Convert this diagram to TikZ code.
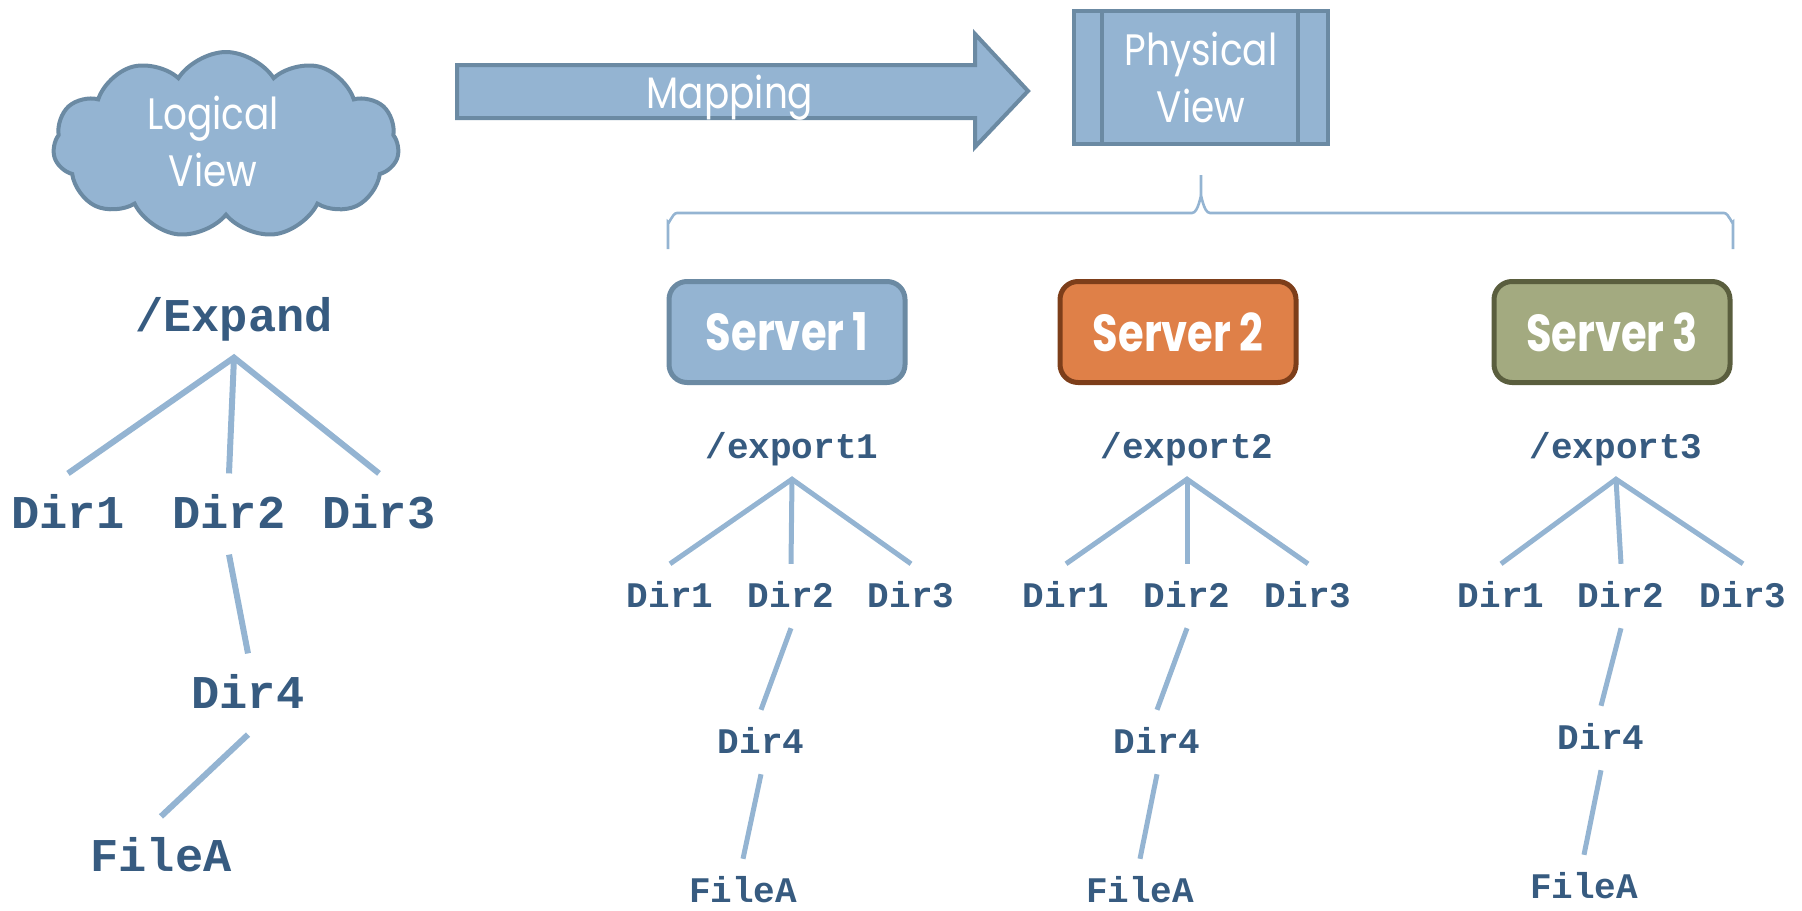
\documentclass[tikz,border=0pt]{standalone}
\usepackage{fontspec}
\usepackage{graphicx}
\usetikzlibrary{shapes.symbols}
\newfontfamily\geo{Poppins}
\newfontfamily\mono{Liberation Mono}
\definecolor{lb}{HTML}{94B4D2}
\definecolor{lbd}{HTML}{6B8AA3}
\definecolor{tx}{HTML}{375B80}
\definecolor{orf}{HTML}{DF8048}
\definecolor{ord}{HTML}{7D3E1A}
\definecolor{olf}{HTML}{A3AA80}
\definecolor{old}{HTML}{5A5E3E}
\tikzset{
  bigt/.style={font=\mono\bfseries\fontsize{23.5}{28}\selectfont, text=tx, inner sep=0pt, outer sep=13pt, text height=14.6pt, text depth=0pt},
  smt/.style={font=\mono\bfseries\fontsize{18}{22}\selectfont, text=tx, inner sep=0pt, outer sep=10.5pt, text height=11.2pt, text depth=0pt},
  bigl/.style={draw=lb, line width=3pt},
  sml/.style={draw=lb, line width=2.5pt},
  srv/.style={rounded corners=9pt, line width=2.5pt, minimum width=118pt, minimum height=50.5pt, text=white, font=\geo\bfseries\fontsize{26}{30}\selectfont},
  lighttext/.style={text=white, font=\geo\fontsize{22}{28.5}\selectfont, align=center},
  bluefill/.style={fill=lb, draw=lbd, line width=2pt}
}
\begin{document}
\begin{tikzpicture}[x=0.5pt,y=-0.5pt]
\useasboundingbox (0,0) rectangle (1802,910);

% cloud
\node[cloud, cloud puffs=11, cloud puff arc=115, aspect=1.9, bluefill, minimum width=173pt, minimum height=93pt, inner sep=0pt] (cl) at (226,145) {};
\node[lighttext] (clt) at (213,141) {\scalebox{0.85}[1]{Logical}\\\scalebox{0.85}[1]{View}};

% mapping arrow
\draw[bluefill] (457,65) -- (975,65) -- (975,34) -- (1028,91) -- (975,147) -- (975,118) -- (457,118) -- cycle;
\node[lighttext] (map) at (730,98) {\scalebox{0.85}[1]{Mapping}};

% physical view
\node[bluefill, minimum width=127pt, minimum height=66.5pt, lighttext] (pv) at (1201,77.5) {\scalebox{0.85}[1]{Physical}\\\scalebox{0.85}[1]{View}};
\draw[draw=lbd, line width=2pt] ([xshift=15pt]pv.north west) -- ([xshift=15pt]pv.south west);
\draw[draw=lbd, line width=2pt] ([xshift=-16pt]pv.north east) -- ([xshift=-16pt]pv.south east);

% brace
\draw[draw=lb, line width=1.3pt] (668,249) -- (668,222) to[out=-90,in=180] (677,213) -- (1192,213) to[out=0,in=90] (1201,198) -- (1201,175);
\draw[draw=lb, line width=1.3pt] (1201,198) to[out=90,in=180] (1210,213) -- (1724,213) to[out=0,in=-90] (1733,222) -- (1733,249);

% servers
\node[srv, fill=lb, draw=lbd] (s1) at (787,332) {\scalebox{0.8}[1]{Server\hspace{5pt}1}};
\node[srv, fill=orf, draw=ord] (s2) at (1178,332) {\scalebox{0.8}[1]{Server\hspace{5pt}2}};
\node[srv, fill=olf, draw=old] (s3) at (1612,332) {\scalebox{0.8}[1]{Server\hspace{5pt}3}};

% left tree
\node[bigt] (ex) at (234,317) {/Expand};
\node[bigt] (l1) at (68,514) {Dir1};
\node[bigt] (l2) at (229,514) {Dir2};
\node[bigt] (l3) at (379,514) {Dir3};
\node[bigt] (l4) at (248,694) {Dir4};
\node[bigt] (lf) at (161,857) {FileA};
\draw[bigl] (l1.north) -- (ex.south) -- (l3.north);
\draw[bigl] (ex.south) -- (l2.north);
\draw[bigl] (l2.south) -- (l4.north);
\draw[bigl] (l4.south) -- (lf.north);

% tree 1
\node[smt] (e1) at (792,447) {/export1};
\node[smt] (a1) at (670,596) {Dir1};
\node[smt] (a2) at (791,596) {Dir2};
\node[smt] (a3) at (911,596) {Dir3};
\node[smt] (a4) at (761,742) {Dir4};
\node[smt] (af) at (743,891) {FileA};
\draw[sml] (a1.north) -- (e1.south) -- (a3.north);
\draw[sml] (e1.south) -- (a2.north);
\draw[sml] (a2.south) -- (a4.north);
\draw[sml] (a4.south) -- (af.north);

% tree 2
\node[smt] (e2) at (1187,447) {/export2};
\node[smt] (b1) at (1066,596) {Dir1};
\node[smt] (b2) at (1187,596) {Dir2};
\node[smt] (b3) at (1308,596) {Dir3};
\node[smt] (b4) at (1157,742) {Dir4};
\node[smt] (bf) at (1140,891) {FileA};
\draw[sml] (b1.north) -- (e2.south) -- (b3.north);
\draw[sml] (e2.south) -- (b2.north);
\draw[sml] (b2.south) -- (b4.north);
\draw[sml] (b4.south) -- (bf.north);

% tree 3
\node[smt] (e3) at (1616,447) {/export3};
\node[smt] (c1) at (1501,596) {Dir1};
\node[smt] (c2) at (1621,596) {Dir2};
\node[smt] (c3) at (1743,596) {Dir3};
\node[smt] (c4) at (1601,738) {Dir4};
\node[smt] (cf) at (1584,887) {FileA};
\draw[sml] (c1.north) -- (e3.south) -- (c3.north);
\draw[sml] (e3.south) -- (c2.north);
\draw[sml] (c2.south) -- (c4.north);
\draw[sml] (c4.south) -- (cf.north);
\end{tikzpicture}
\end{document}
